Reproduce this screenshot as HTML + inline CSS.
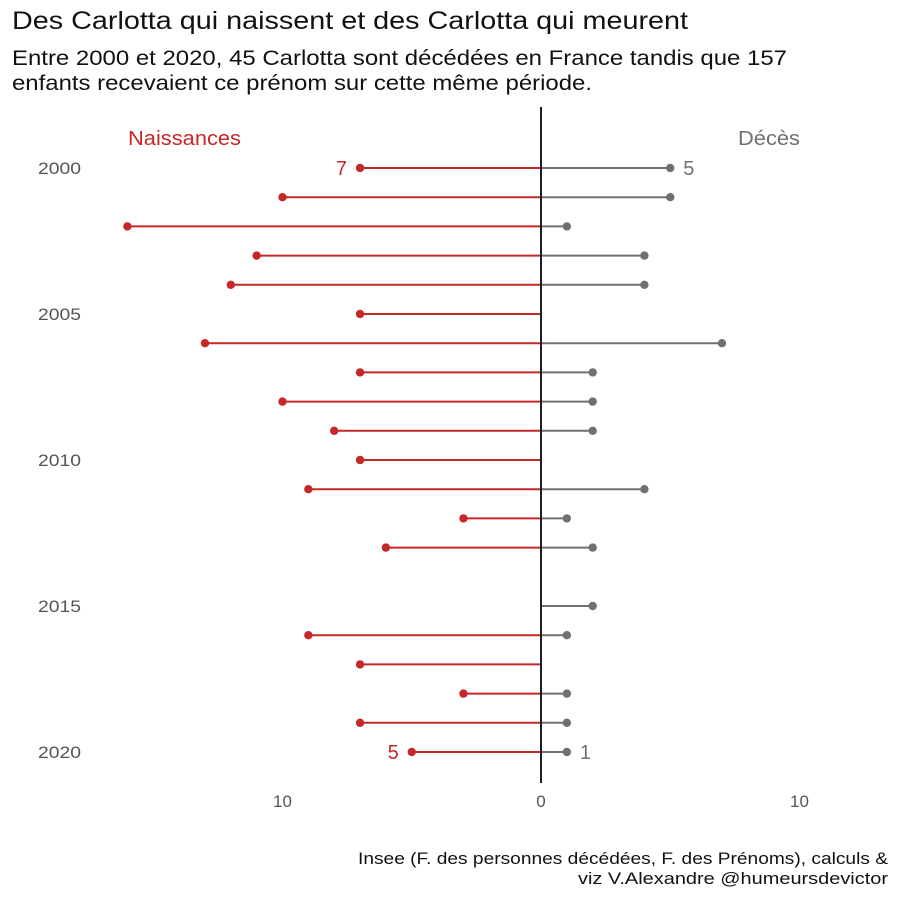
<!DOCTYPE html>
<html><head><meta charset="utf-8"><style>
body{margin:0;background:#fff;}
svg{display:block;font-family:"Liberation Sans",sans-serif;}
</style></head><body>
<svg id="chart" width="900" height="900">
<text x="12" y="29" font-size="25" fill="#111" textLength="676" lengthAdjust="spacingAndGlyphs">Des Carlotta qui naissent et des Carlotta qui meurent</text>
<text x="12" y="65" font-size="21" fill="#111" textLength="775" lengthAdjust="spacingAndGlyphs">Entre 2000 et 2020, 45 Carlotta sont décédées en France tandis que 157</text>
<text x="12" y="90" font-size="21" fill="#111" textLength="580" lengthAdjust="spacingAndGlyphs">enfants recevaient ce prénom sur cette même période.</text>
<text x="128" y="145" font-size="20" fill="#c62828" textLength="113" lengthAdjust="spacingAndGlyphs">Naissances</text>
<text x="738" y="145" font-size="20" fill="#707070" textLength="62" lengthAdjust="spacingAndGlyphs">Décès</text>
<g id="marks"></g>
<text x="888" y="864" font-size="17" fill="#111" text-anchor="end" textLength="530" lengthAdjust="spacingAndGlyphs">Insee (F. des personnes décédées, F. des Prénoms), calculs &amp;</text>
<text x="888" y="884" font-size="17" fill="#111" text-anchor="end" textLength="310" lengthAdjust="spacingAndGlyphs">viz V.Alexandre @humeursdevictor</text>
</svg>
<script>
const years=[2000,2001,2002,2003,2004,2005,2006,2007,2008,2009,2010,2011,2012,2013,2014,2015,2016,2017,2018,2019,2020];
const births=[7,10,16,11,12,7,13,7,10,8,7,9,3,6,0,0,9,7,3,7,5];
const deaths=[5,5,1,4,4,0,7,2,2,2,0,4,1,2,0,2,1,0,1,1,1];
const yTicks=[2000,2005,2010,2015,2020];
const xTicks=[-10,0,10];
const xTickLabels=["10","0","10"];

const NS="http://www.w3.org/2000/svg";
const g=document.getElementById('marks');
const x=v=>541+v*25.85;
const y=yr=>168+(yr-2000)*29.2;
function mk(t,a){const e=document.createElementNS(NS,t);for(const k in a)e.setAttribute(k,a[k]);g.appendChild(e);return e;}

yTicks.forEach(t=>{const e=mk('text',{x:38,y:y(t)+6,'font-size':17,fill:'#555',textLength:43,lengthAdjust:'spacingAndGlyphs'});e.textContent=t;

});
xTicks.forEach((t,i)=>{const e=mk('text',{x:x(t),y:807,'font-size':17,fill:'#555','text-anchor':'middle'});e.textContent=xTickLabels[i];

});

years.forEach((yr,i)=>{
  const yy=y(yr);
  if(births[i]>0){
    const l=mk('line',{x1:x(0),x2:x(-births[i]),y1:yy,y2:yy,stroke:'#c62828','stroke-width':2});
    
    
    const c=mk('circle',{cx:x(-births[i]),cy:yy,r:4.2,fill:'#c62828'});
    
    
  }
  if(deaths[i]>0){
    const l=mk('line',{x1:x(0),x2:x(deaths[i]),y1:yy,y2:yy,stroke:'#707070','stroke-width':2});
    
    
    const c=mk('circle',{cx:x(deaths[i]),cy:yy,r:4.2,fill:'#707070'});
    
    
  }
});
[0,years.length-1].forEach(i=>{
  const yr=years[i],yy=y(yr);
  const b=mk('text',{x:x(-births[i])-13,y:yy+7,'font-size':20,fill:'#c62828','text-anchor':'end'});b.textContent=births[i];
  
  
  const d=mk('text',{x:x(deaths[i])+13,y:yy+7,'font-size':20,fill:'#707070'});d.textContent=deaths[i];
  
  
});
const ax=mk('line',{x1:x(0),x2:x(0),y1:107,y2:783,stroke:'#1a1f2b','stroke-width':2});


</script>
</body></html>
